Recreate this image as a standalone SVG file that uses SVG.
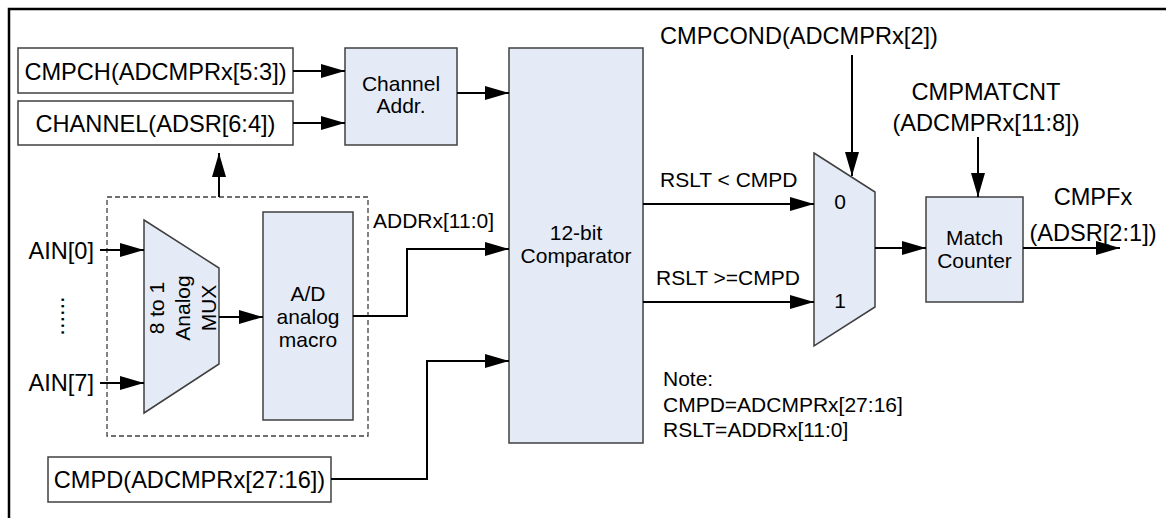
<svg xmlns="http://www.w3.org/2000/svg" width="1166" height="518" viewBox="0 0 1166 518">
<style>
text{font-family:"Liberation Sans",Arial,sans-serif;fill:#000}
.big{font-size:23.6px}
.mid{font-size:21px}
.c{text-anchor:middle}
.e{text-anchor:end}
.box{fill:#fff;stroke:#404040;stroke-width:1.5}
.blk{fill:#E5EBF6;stroke:#404040;stroke-width:1.5}
.wire{fill:none;stroke:#000;stroke-width:2}
.arr{marker-end:url(#ah)}
</style>
<defs>
<marker id="ah" markerUnits="userSpaceOnUse" markerWidth="25" markerHeight="15" refX="24" refY="7" orient="auto">
<path d="M0,0 L24,7 L0,14 z" fill="#000"/>
</marker>
</defs>
<rect width="1166" height="518" fill="#fff"/>
<path d="M9,518 V9 H1166" fill="none" stroke="#000" stroke-width="2.5"/>

<g id="cmpch">
<rect class="box" x="18" y="48" width="275" height="45"/>
<text class="big c" x="155.5" y="79.5">CMPCH(ADCMPRx[5:3])</text>
</g>
<g id="channel">
<rect class="box" x="18" y="101" width="275" height="44"/>
<text class="big c" x="155.5" y="131.5">CHANNEL(ADSR[6:4])</text>
</g>
<g id="chaddr">
<rect class="blk" x="345" y="48" width="112" height="97"/>
<text class="mid c" x="401" y="91">Channel</text>
<text class="mid c" x="401" y="113">Addr.</text>
</g>
<g id="adc">
<rect x="107" y="197" width="261" height="239" fill="none" stroke="#404040" stroke-width="1.3" stroke-dasharray="5,3"/>
</g>
<g id="mux8">
<path class="blk" d="M144,220 L219,268 L219,364 L144,413 z"/>
<text class="mid c" transform="translate(164,308) rotate(-90)">8 to 1</text>
<text class="mid c" transform="translate(190,308) rotate(-90)">Analog</text>
<text class="mid c" transform="translate(216,308) rotate(-90)">MUX</text>
</g>
<g id="admacro">
<rect class="blk" x="263" y="212" width="90" height="208"/>
<text class="mid c" x="308" y="301">A/D</text>
<text class="mid c" x="308" y="324">analog</text>
<text class="mid c" x="308" y="347">macro</text>
</g>
<g id="ain">
<text class="big e" x="94" y="259">AIN[0]</text>
<text class="big c" transform="translate(64,316) rotate(-90)">......</text>
<text class="big e" x="94" y="391">AIN[7]</text>
</g>
<g id="cmpd">
<rect class="box" x="48" y="457" width="283" height="45"/>
<text class="big c" x="189.5" y="488">CMPD(ADCMPRx[27:16])</text>
</g>
<g id="comparator">
<rect class="blk" x="509" y="48" width="134" height="395"/>
<text class="mid c" x="576" y="240">12-bit</text>
<text class="mid c" x="576" y="263">Comparator</text>
</g>
<g id="mux2">
<path class="blk" d="M814,153 L875,192 L875,307 L814,346 z"/>
<text class="mid c" x="840" y="209">0</text>
<text class="mid c" x="840" y="308">1</text>
</g>
<g id="matchcounter">
<rect class="blk" x="926" y="197" width="97" height="105"/>
<text class="mid c" x="974.5" y="245">Match</text>
<text class="mid c" x="974.5" y="268">Counter</text>
</g>
<g id="labels">
<text class="mid" x="373" y="228">ADDRx[11:0]</text>
<text class="mid" x="660" y="187">RSLT &lt; CMPD</text>
<text class="mid" x="656" y="285">RSLT &gt;=CMPD</text>
<text class="big c" x="799" y="44">CMPCOND(ADCMPRx[2])</text>
<text class="big c" x="986" y="100">CMPMATCNT</text>
<text class="big c" x="986" y="131">(ADCMPRx[11:8])</text>
<text class="big c" x="1093" y="205">CMPFx</text>
<text class="big c" x="1093" y="241">(ADSR[2:1])</text>
<text class="mid" x="663" y="386">Note:</text>
<text class="mid" x="663" y="412">CMPD=ADCMPRx[27:16]</text>
<text class="mid" x="663" y="437">RSLT=ADDRx[11:0]</text>
</g>
<g id="connectors">
<path class="wire arr" d="M293,71 H345"/>
<path class="wire arr" d="M293,123 H345"/>
<path class="wire arr" d="M219,197 V153"/>
<path class="wire arr" d="M100,250 H144" stroke-width="1.5"/>
<path class="wire arr" d="M100,383 H144" stroke-width="1.5"/>
<path class="wire arr" d="M219,317 H263"/>
<path class="wire arr" d="M353,316 H407 V249 H509"/>
<path class="wire arr" d="M331,479 H427 V361 H509"/>
<path class="wire arr" d="M457,93 H509"/>
<path class="wire arr" d="M643,204 H814"/>
<path class="wire arr" d="M643,302 H814"/>
<path class="wire arr" d="M852,55 V176"/>
<path class="wire arr" d="M978,137 V197"/>
<path class="wire arr" d="M875,248 H926"/>
<path class="wire arr" d="M1023,248 H1120"/>
</g>
</svg>
